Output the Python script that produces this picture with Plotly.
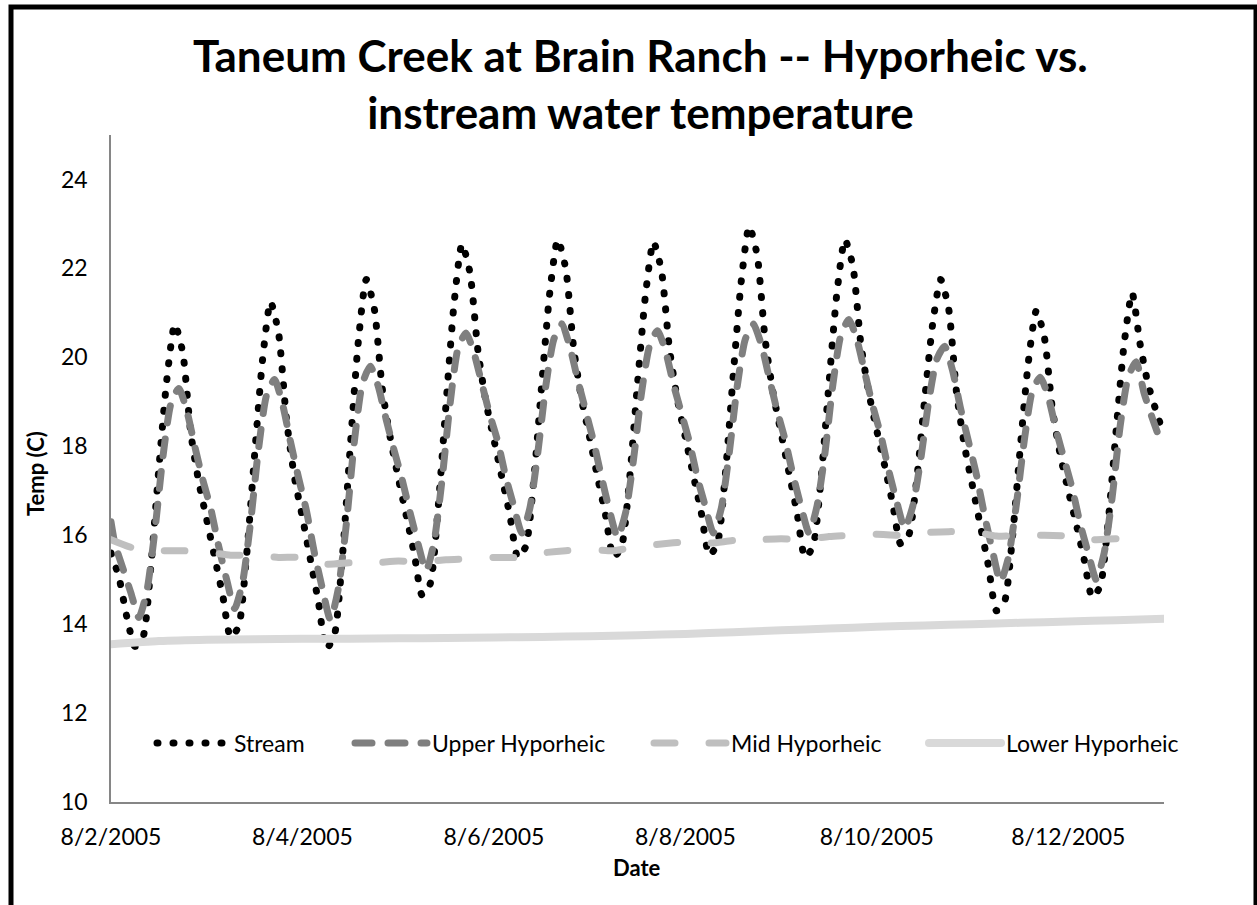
import pandas as pd
import plotly.graph_objects as go

# ---- axis ticks -------------------------------------------------------------
tick_dates = ["2005-08-02", "2005-08-04", "2005-08-06", "2005-08-08", "2005-08-10", "2005-08-12"]
tick_labels = ["8/2/2005", "8/4/2005", "8/6/2005", "8/8/2005", "8/10/2005", "8/12/2005"]
y_ticks = [10, 12, 14, 16, 18, 20, 22, 24]

# ---- Stream temperature (C), every 2 h from 8/2 00:00 to 8/13 00:00 ----------
stream_temp = [
    15.6, 15.05, 14.15, 13.5, 13.7, 15.3, 17.5, 19.5, 20.75, 20.1, 18.3, 17.2,      # 8/2
    16.35, 15.5, 14.65, 13.7, 13.95, 15.55, 17.8, 19.95, 21.25, 20.55, 18.6, 17.3,  # 8/3
    16.4, 15.45, 14.5, 13.45, 13.75, 15.5, 18.0, 20.35, 21.75, 21.1, 19.3, 18.2,    # 8/4
    17.3, 16.45, 15.6, 14.65, 14.9, 16.6, 18.95, 21.2, 22.55, 21.9, 20.15, 19.0,    # 8/5
    18.15, 17.3, 16.45, 15.5, 15.75, 17.25, 19.4, 21.45, 22.65, 22.0, 20.2, 19.05,  # 8/6
    18.2, 17.3, 16.45, 15.5, 15.75, 17.25, 19.4, 21.4, 22.6, 21.95, 20.2, 19.05,    # 8/7
    18.2, 17.35, 16.5, 15.55, 15.8, 17.35, 19.6, 21.7, 22.95, 22.3, 20.4, 19.2,     # 8/8
    18.3, 17.4, 16.5, 15.5, 15.75, 17.25, 19.4, 21.45, 22.65, 22.05, 20.3, 19.2,    # 8/9
    18.35, 17.55, 16.7, 15.8, 16.0, 17.25, 19.05, 20.75, 21.75, 21.1, 19.2, 18.0,   # 8/10
    17.1, 16.2, 15.3, 14.3, 14.5, 15.95, 18.0, 19.9, 21.05, 20.45, 18.85, 17.8,     # 8/11
    17.0, 16.25, 15.45, 14.6, 14.85, 16.3, 18.35, 20.3, 21.45, 20.3, 19.4, 18.8,    # 8/12
    18.25,                                                                         # 8/13
]

# ---- Upper hyporheic (C): 8/2 00:00, then every 2 h on the odd hours ---------
upper_temp = [
    16.3,
    15.8, 15.25, 14.7, 14.15, 14.75, 16.1, 17.75, 18.95, 19.3, 18.8, 18.0, 17.25,    # 8/2
    16.6, 15.75, 15.0, 14.35, 14.95, 16.3, 17.95, 19.15, 19.5, 18.95, 18.1, 17.3,   # 8/3
    16.55, 15.6, 14.8, 14.1, 14.8, 16.25, 18.1, 19.4, 19.8, 19.35, 18.6, 17.9,      # 8/4
    17.25, 16.5, 15.8, 15.2, 15.85, 17.25, 18.95, 20.2, 20.55, 20.1, 19.4, 18.7,    # 8/5
    18.1, 17.3, 16.65, 16.05, 16.6, 17.85, 19.35, 20.4, 20.75, 20.25, 19.5, 18.8,   # 8/6
    18.1, 17.3, 16.55, 15.95, 16.5, 17.7, 19.2, 20.25, 20.6, 20.15, 19.4, 18.75,    # 8/7
    18.1, 17.3, 16.65, 16.05, 16.6, 17.85, 19.35, 20.4, 20.75, 20.3, 19.55, 18.8,   # 8/8
    18.15, 17.35, 16.65, 16.05, 16.65, 17.85, 19.4, 20.5, 20.85, 20.4, 19.65, 18.9, # 8/9
    18.25, 17.45, 16.75, 16.15, 16.65, 17.7, 19.0, 19.95, 20.25, 19.7, 18.85, 18.1, # 8/10
    17.35, 16.45, 15.65, 14.95, 15.5, 16.7, 18.15, 19.25, 19.55, 19.1, 18.35, 17.7, # 8/11
    17.05, 16.25, 15.6, 15.0, 15.6, 16.85, 18.45, 19.55, 19.9, 19.2, 18.65, 18.15,  # 8/12
]

# ---- Mid hyporheic (C), every 6 h from 8/2 00:00 -----------------------------
mid_temp = [
    15.9, 15.7, 15.65, 15.65, 15.62, 15.55, 15.55, 15.5, 15.5, 15.35, 15.38,
    15.38, 15.42, 15.4, 15.45, 15.47, 15.5, 15.5, 15.6, 15.65, 15.68, 15.65,
    15.75, 15.8, 15.85, 15.82, 15.88, 15.9, 15.92, 15.9, 15.97, 16.0, 16.02,
    16.0, 16.06, 16.08, 16.08, 15.98, 16.0, 16.0, 15.98, 15.9, 15.92, 15.88,
]

# ---- Lower hyporheic (C), every 12 h from 8/2 00:00 --------------------------
lower_temp = [
    13.55, 13.62, 13.65, 13.66, 13.67, 13.67, 13.68, 13.69, 13.7, 13.71, 13.73,
    13.75, 13.78, 13.82, 13.86, 13.9, 13.94, 13.97, 14.0, 14.03, 14.06, 14.09,
    14.12,
]

stream_time = pd.date_range("2005-08-02 00:00", periods=len(stream_temp), freq="2h")
upper_time = pd.DatetimeIndex(["2005-08-02 00:00"]).append(
    pd.date_range("2005-08-02 01:00", periods=len(upper_temp) - 1, freq="2h"))
mid_time = pd.date_range("2005-08-02 00:00", periods=len(mid_temp), freq="6h")
lower_time = pd.date_range("2005-08-02 00:00", periods=len(lower_temp), freq="12h")

FONT = "Lato"
W, H = 1257, 905
L, R, T, B = 111, 93, 135, 103
PW, PH = W - L - R, H - T - B


def px_x(px):
    """pixel column -> paper x"""
    return (px - L) / PW


def px_y(py):
    """pixel row -> paper y"""
    return (H - B - py) / PH


# name, x, y, colour, width, dash pattern, legend id, legend left edge (px)
series = [
    ("Stream", stream_time, stream_temp, "#000000", 7, "1px,15px", "legend", 152),
    ("Upper Hyporheic", upper_time, upper_temp, "#7f7f7f", 7, "17px,16px", "legend2", 350),
    ("Mid Hyporheic", mid_time, mid_temp, "#bfbfbf", 7, "21px,34px", "legend3", 649),
    ("Lower Hyporheic", lower_time, lower_temp, "#d9d9d9", 8, "solid", "legend4", 924),
]

fig = go.Figure()
legends = {}
for name, xs, ys, color, width, dash, lg, lx in series:
    fig.add_trace(go.Scatter(
        x=xs, y=ys, mode="lines", name=name, legend=lg, showlegend=True,
        line=dict(color=color, width=width, dash=dash, shape="spline", smoothing=0.6),
    ))
    legends[lg] = dict(
        visible=True,
        x=px_x(lx), y=px_y(743), xanchor="left", yanchor="middle", orientation="h",
        bgcolor="rgba(0,0,0,0)", borderwidth=0, itemwidth=72,
        font=dict(family=FONT, size=23, color="#000000"),
    )

chart_title = "Taneum Creek at Brain Ranch -- Hyporheic vs.<br>instream water temperature"

annotations = [
    dict(text=f"<b>{chart_title}</b>", xref="paper", yref="paper", x=px_x(640), y=px_y(84),
         xanchor="center", yanchor="middle", align="center", showarrow=False,
         font=dict(family=FONT, size=44, color="#000000")),
    dict(text="<b>Date</b>", xref="paper", yref="paper", x=px_x(637), y=px_y(867),
         xanchor="center", yanchor="middle", showarrow=False,
         font=dict(family=FONT, size=22, color="#000000")),
    dict(text="<b>Temp (C)</b>", xref="paper", yref="paper", x=px_x(35), y=px_y(474),
         xanchor="center", yanchor="middle", textangle=-90, showarrow=False,
         font=dict(family=FONT, size=22, color="#000000")),
]

fig.update_layout(
    width=W, height=H,
    margin=dict(l=L, r=R, t=T, b=B),
    paper_bgcolor="#ffffff", plot_bgcolor="#ffffff",
    font=dict(family=FONT, color="#000000"),
    showlegend=True,
    xaxis=dict(
        type="date", range=["2005-08-02 00:00", "2005-08-13 00:00"],
        tickvals=tick_dates, ticktext=tick_labels, ticks="",
        showgrid=False, zeroline=False, showline=True,
        linecolor="#868686", linewidth=1.5,
        tickfont=dict(family=FONT, size=23, color="#000000"),
        ticklabelstandoff=14,
    ),
    yaxis=dict(
        range=[10, 25], tickvals=y_ticks, ticks="",
        showgrid=False, zeroline=False, showline=True,
        linecolor="#868686", linewidth=1.5,
        tickfont=dict(family=FONT, size=23, color="#000000"),
        ticklabelstandoff=17,
    ),
    annotations=annotations,
    shapes=[dict(
        type="rect", xref="paper", yref="paper",
        x0=px_x(11), x1=px_x(1256), y0=px_y(920), y1=px_y(7),
        line=dict(color="#000000", width=5), fillcolor="rgba(0,0,0,0)", layer="above",
    )],
    **legends,
)

# round caps turn the short dashes into dots, as in the original line styles
round_caps = (
    "var s=document.createElement('style');"
    "s.textContent='.js-line{stroke-linecap:round;stroke-linejoin:round;}';"
    "document.head.appendChild(s);"
)
fig.write_html("out.html", config={"displayModeBar": False}, post_script=round_caps)
